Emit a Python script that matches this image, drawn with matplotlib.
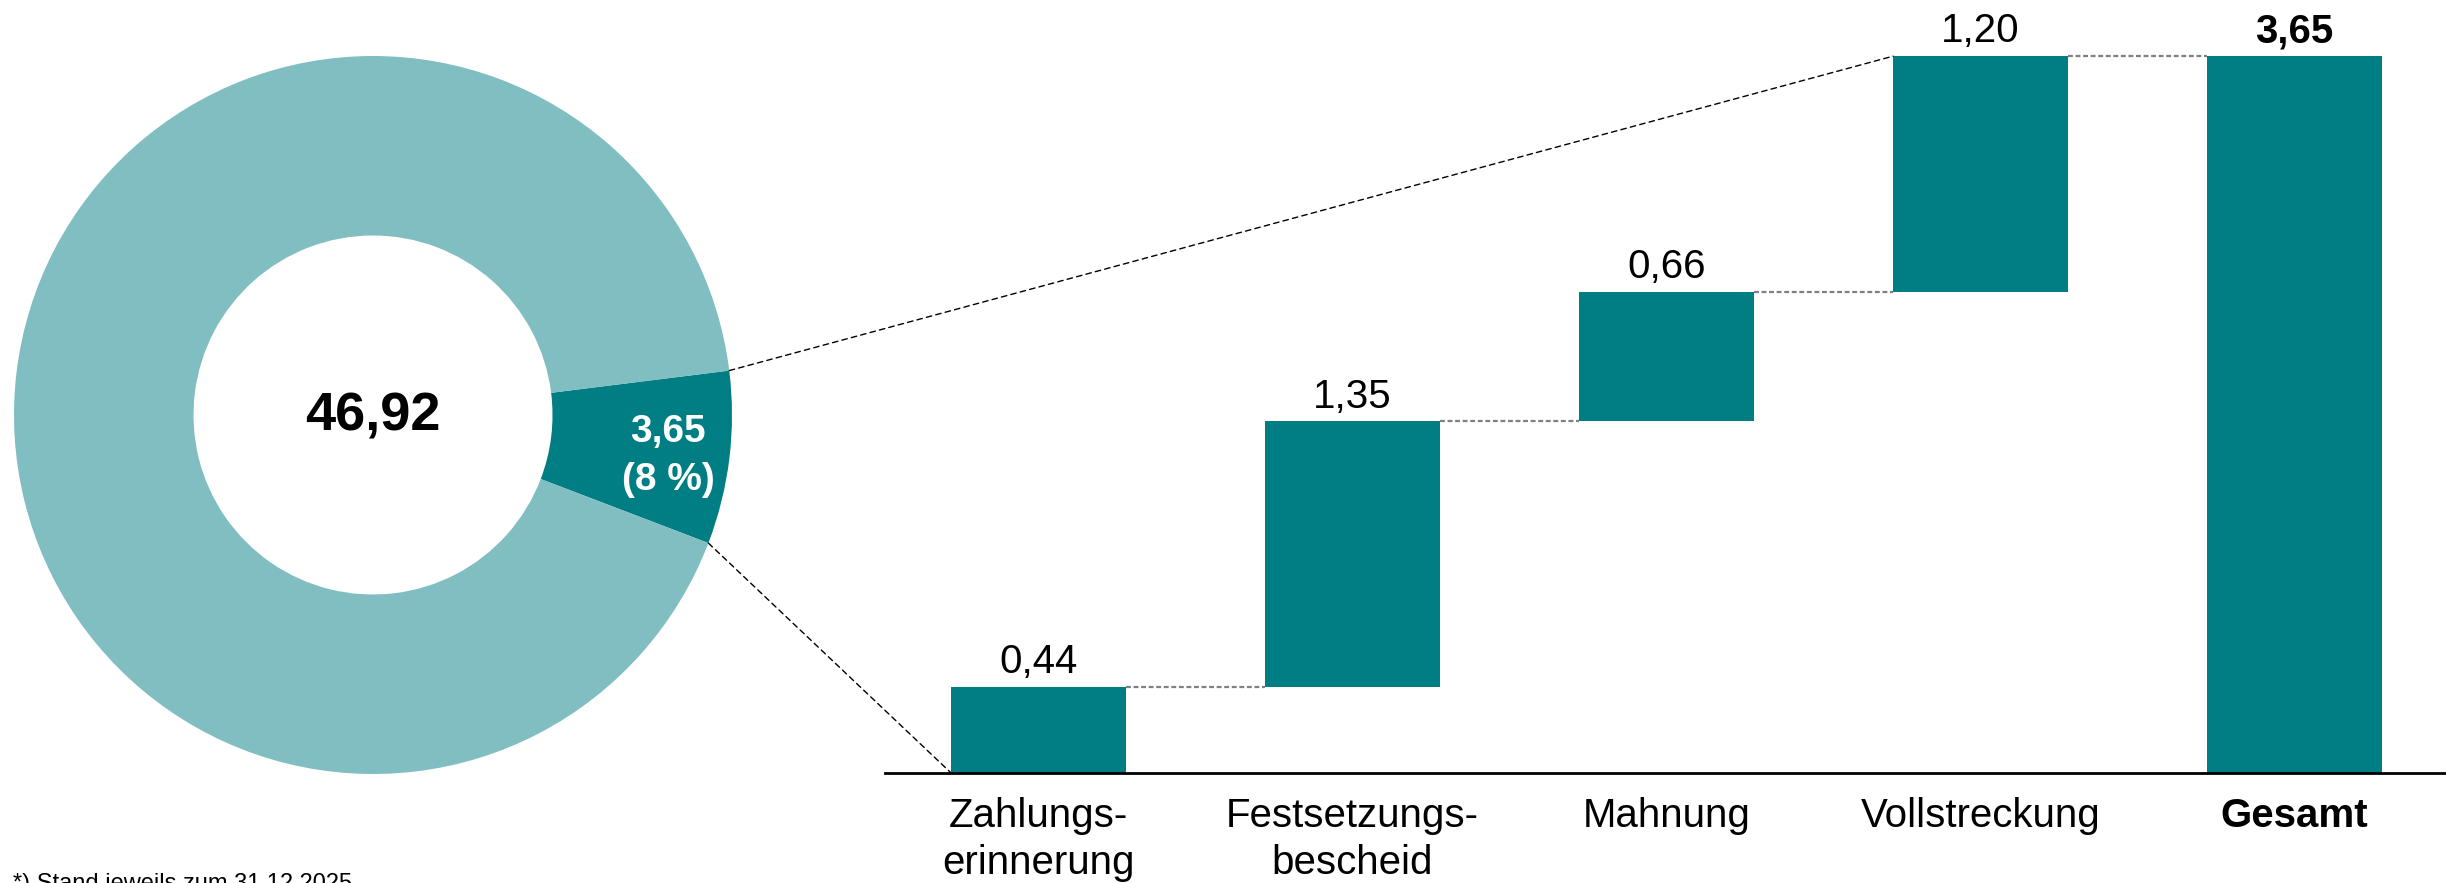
import numpy as np
import matplotlib
matplotlib.use("Agg")
import matplotlib.pyplot as plt
from matplotlib.patches import ConnectionPatch

plt.rcParams['font.family'] = ['Liberation Sans', 'DejaVu Sans']

# ---- data ----
total_label = "46,92"
donut_values = [3.65, 43.27]          # Anteil (dunkel), Rest (hell)
donut_share_label = ["3,65", "(8 %)"]
categories = ["Zahlungs-\nerinnerung", "Festsetzungs-\nbescheid", "Mahnung", "Vollstreckung", "Gesamt"]
increments = [0.44, 1.35, 0.66, 1.20]
total = 3.65
footnote = "*) Stand jeweils zum 31.12.2025"

DARK = "#017E84"
LIGHT = "#80BEC1"

W, H = 2446, 883
fig = plt.figure(figsize=(W / 100, H / 100), dpi=100)

def px_axes(left, top, width, height):
    return fig.add_axes([left / W, (H - top - height) / H, width / W, height / H])

# ---- donut ----
cx, cy, r = 373, 415, 359
axd = px_axes(cx - r, cy - r, 2 * r, 2 * r)
start = -20.9
axd.pie(donut_values, colors=[DARK, LIGHT], startangle=start, counterclock=True,
        radius=1.0, wedgeprops=dict(width=0.5, linewidth=0))
axd.set_xlim(-1, 1)
axd.set_ylim(-1, 1)
axd.set_aspect('equal')
axd.axis('off')
axd.text(0, -0.005, total_label, ha='center', va='center', fontsize=39, fontweight='bold', color='black')
lx = 0.822
axd.text(lx, -0.075, donut_share_label[0], ha='center', va='baseline', fontsize=28, fontweight='bold', color='white')
axd.text(lx, -0.208, donut_share_label[1], ha='center', va='baseline', fontsize=28, fontweight='bold', color='white')

ang_lo = np.deg2rad(start)
ang_hi = np.deg2rad(start + donut_values[0] / sum(donut_values) * 360)

# ---- waterfall ----
axb = px_axes(885, 0, W - 885, 773)
n = len(categories)
x = np.arange(n)
bottoms = np.concatenate([[0], np.cumsum(increments)[:-1]])
heights = list(increments) + [total]
bottoms = list(bottoms) + [0]
bw = 0.557
axb.bar(x, heights, bottom=bottoms, width=bw, color=DARK, linewidth=0, zorder=2)
axb.set_xlim(-0.489, 4.482)
axb.set_ylim(0, 773 / 196.4)
for s in ['top', 'right', 'left']:
    axb.spines[s].set_visible(False)
axb.spines['bottom'].set_linewidth(2.0)
axb.spines['bottom'].set_color('black')
axb.set_xticks([])
axb.set_yticks([])
axb.patch.set_alpha(0)

tops = [b + h for b, h in zip(bottoms, heights)]
# grey connectors between bars
for i in range(n - 1):
    axb.plot([x[i] + bw / 2, x[i + 1] - bw / 2], [tops[i], tops[i]], color='#808080',
             lw=1.6, linestyle=(0, (2.2, 1.2)), zorder=1)

# value labels
for i in range(n):
    v = heights[i]
    lab = f"{v:.2f}".replace('.', ',')
    axb.annotate(lab, xy=(x[i], tops[i]), xytext=(0, 10), textcoords='offset points',
                 ha='center', va='baseline', fontsize=29,
                 fontweight='bold' if i == n - 1 else 'normal', color='black', annotation_clip=False)

# category labels
for i, c in enumerate(categories):
    for j, line in enumerate(c.split('\n')):
        axb.annotate(line, xy=(x[i], 0), xytext=(0, -38.9 - j * 33.5), textcoords='offset points',
                     ha='center', va='baseline', fontsize=29,
                     fontweight='bold' if i == n - 1 else 'normal', color='black', annotation_clip=False)

# dashed connectors donut -> waterfall
con1 = ConnectionPatch(xyA=(np.cos(ang_hi), np.sin(ang_hi)), coordsA=axd.transData,
                       xyB=(x[3] - bw / 2, tops[3]), coordsB=axb.transData,
                       color='black', lw=1.0, linestyle=(0, (4, 3)), zorder=5)
con2 = ConnectionPatch(xyA=(np.cos(ang_lo), np.sin(ang_lo)), coordsA=axd.transData,
                       xyB=(x[0] - bw / 2, 0), coordsB=axb.transData,
                       color='black', lw=1.0, linestyle=(0, (4, 3)), zorder=5)
fig.add_artist(con1)
fig.add_artist(con2)

fig.text(13 / W, -7 / H, footnote, ha='left', va='baseline', fontsize=17, color='black')

fig.savefig("out.png", dpi=100)
